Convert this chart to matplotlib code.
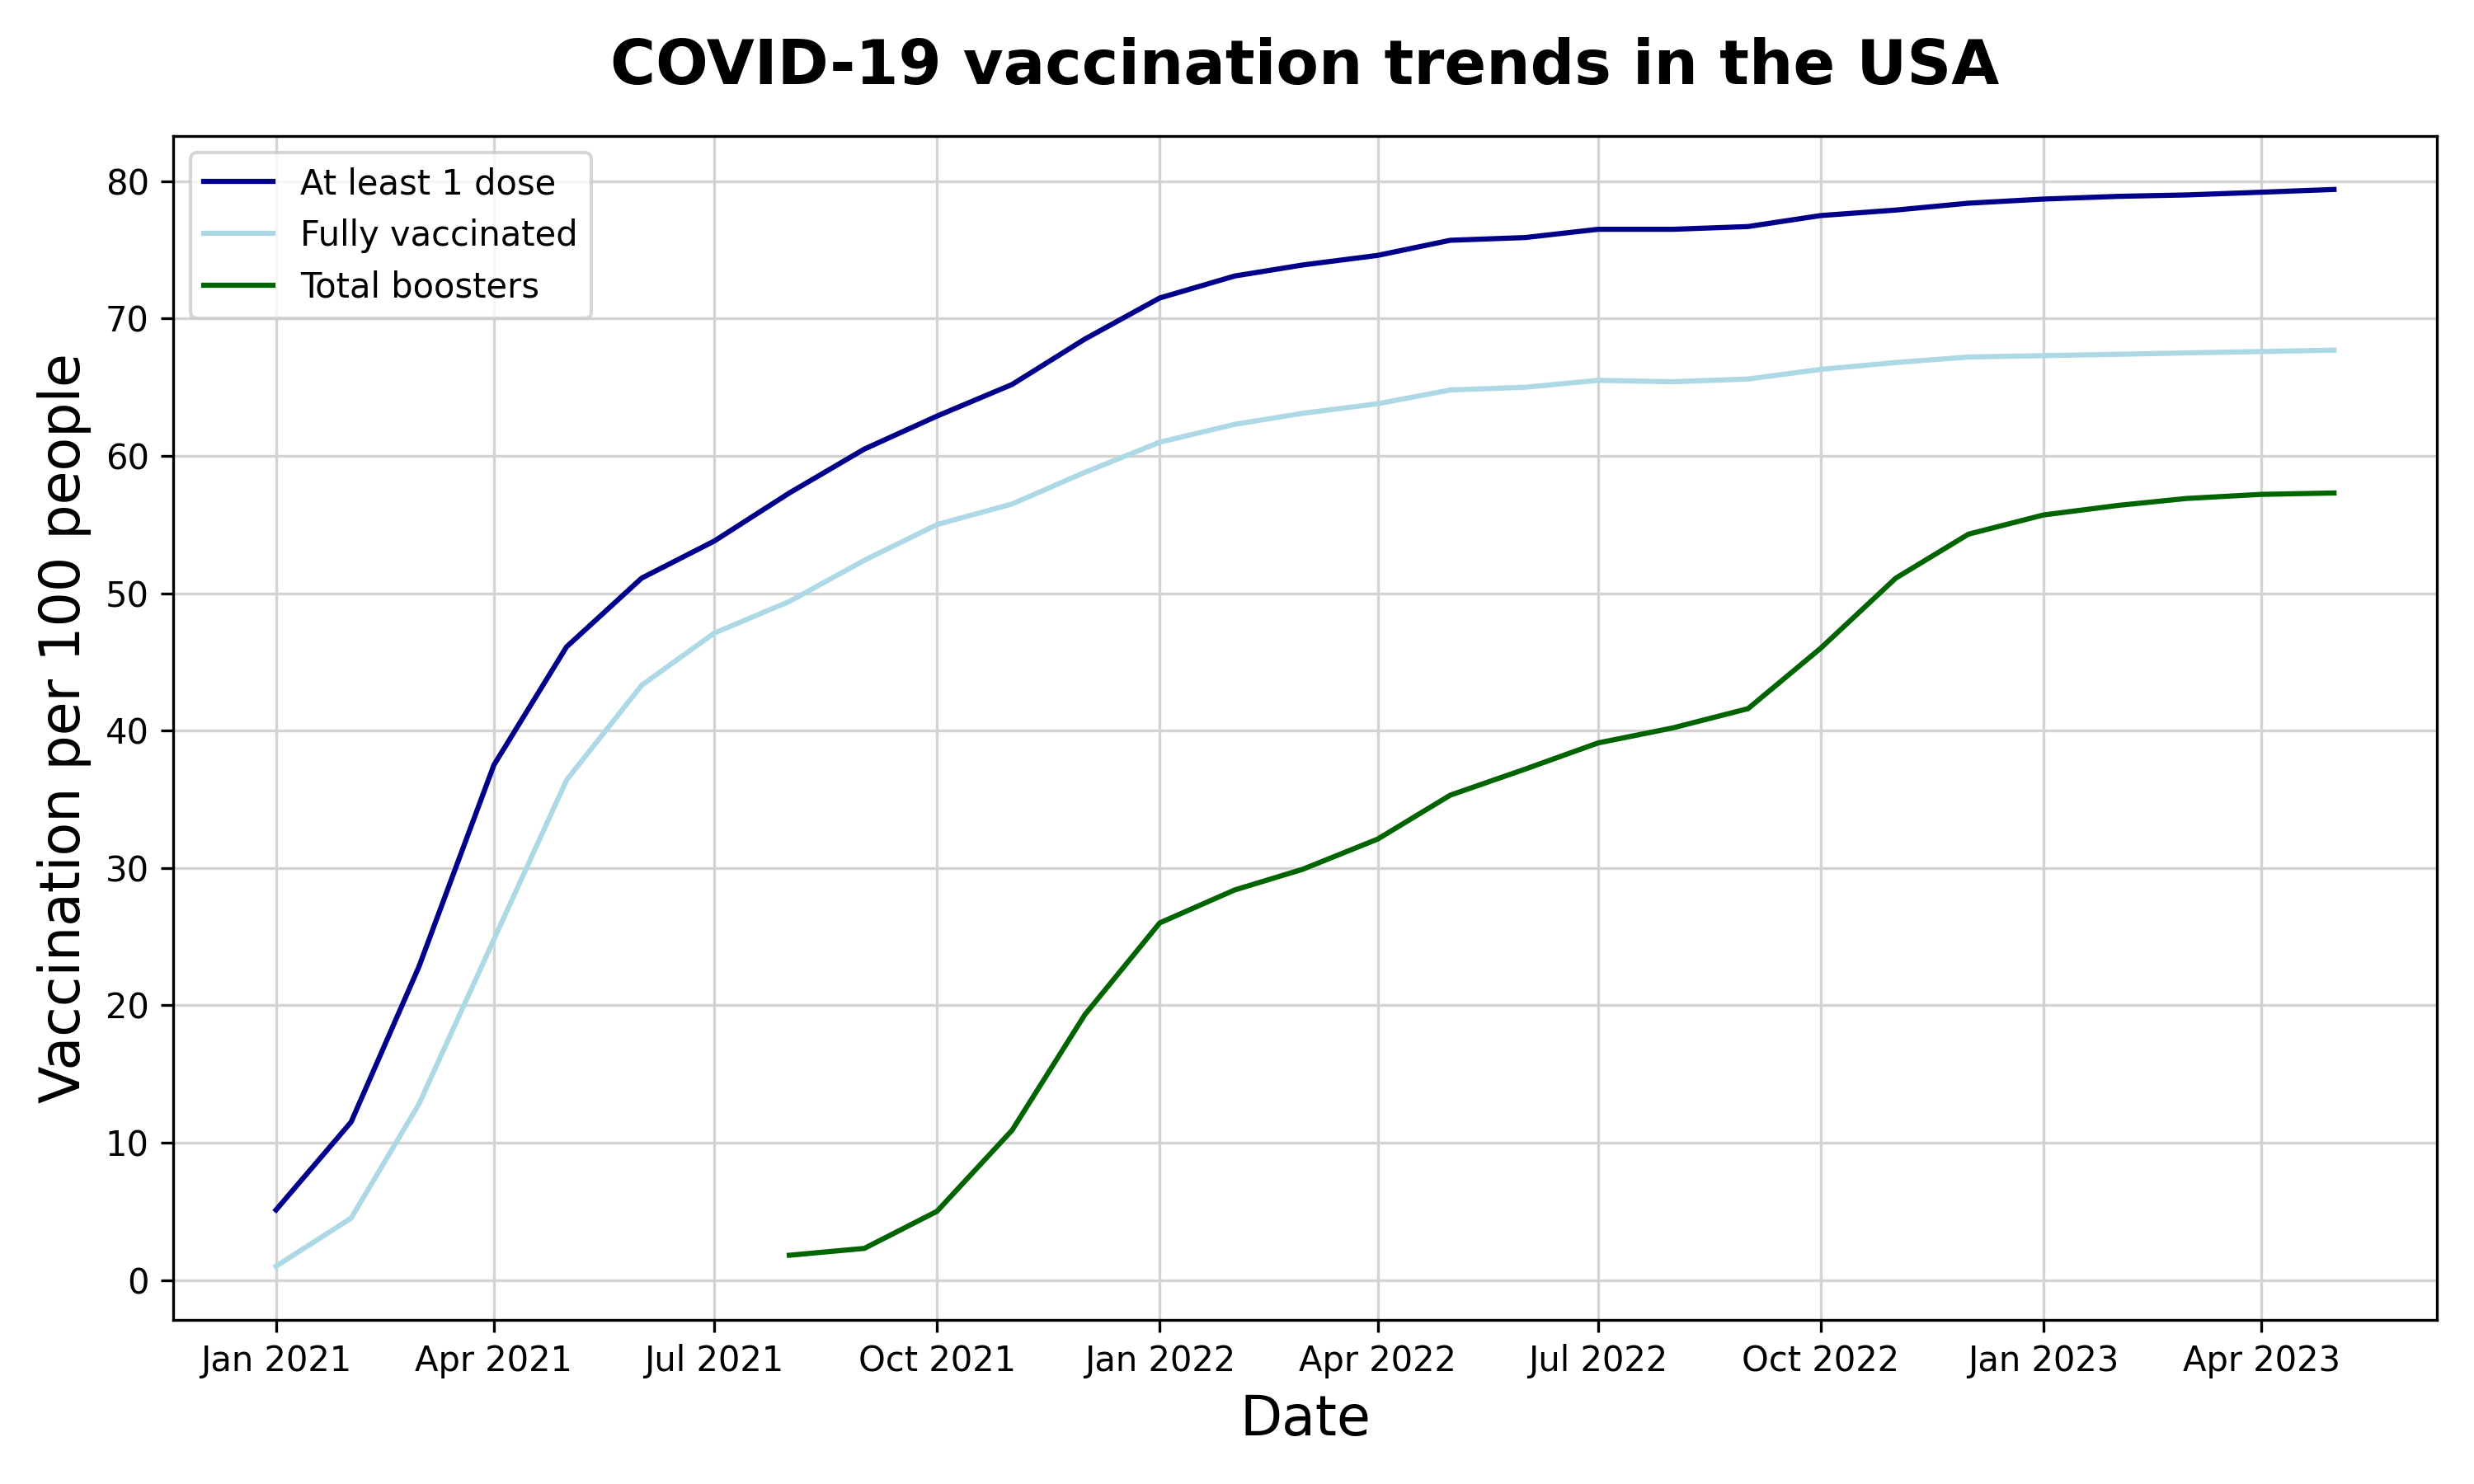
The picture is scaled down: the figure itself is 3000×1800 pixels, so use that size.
import pandas as pd
import matplotlib
matplotlib.use("Agg")
from matplotlib import pyplot as plt
import matplotlib.dates as mdates

months = pd.date_range("2021-01-01", "2023-05-01", freq="MS")

at_least_one = [5.1, 11.5, 22.8, 37.5, 46.1, 51.1, 53.8, 57.3, 60.5, 62.9, 65.2, 68.5,
                71.5, 73.1, 73.9, 74.6, 75.7, 75.9, 76.5, 76.5, 76.7, 77.5, 77.9, 78.4,
                78.7, 78.9, 79.0, 79.2, 79.4]
fully = [1.0, 4.5, 12.8, 24.8, 36.4, 43.3, 47.1, 49.4, 52.4, 55.0, 56.5, 58.8,
         61.0, 62.3, 63.1, 63.8, 64.8, 65.0, 65.5, 65.4, 65.6, 66.3, 66.8, 67.2,
         67.3, 67.4, 67.5, 67.6, 67.7]
# boosters start in Aug 2021
booster_months = pd.date_range("2021-08-01", "2023-05-01", freq="MS")
boosters = [1.8, 2.3, 5.0, 10.9, 19.3,
            26.0, 28.4, 29.9, 32.1, 35.3, 37.2, 39.1, 40.2, 41.6, 46.0, 51.1, 54.3,
            55.7, 56.4, 56.9, 57.2, 57.3]

fig, ax = plt.subplots(figsize=(10, 6), dpi=300)
ax.plot(months, at_least_one, color="darkblue", label="At least 1 dose")
ax.plot(months, fully, color="lightblue", label="Fully vaccinated")
ax.plot(booster_months, boosters, color="darkgreen", label="Total boosters")

ax.xaxis.set_major_locator(mdates.MonthLocator(bymonth=[1, 4, 7, 10]))
ax.xaxis.set_major_formatter(mdates.DateFormatter("%b %Y"))
ax.grid(True, color="lightgray")
ax.set_axisbelow(True)

ax.set_title("COVID-19 vaccination trends in the USA", fontsize=18, fontweight="bold", pad=15)
ax.set_xlabel("Date", fontsize=16)
ax.set_ylabel("Vaccination per 100 people", fontsize=16)
ax.legend(loc="upper left")

plt.tight_layout()
plt.savefig("out.png")
